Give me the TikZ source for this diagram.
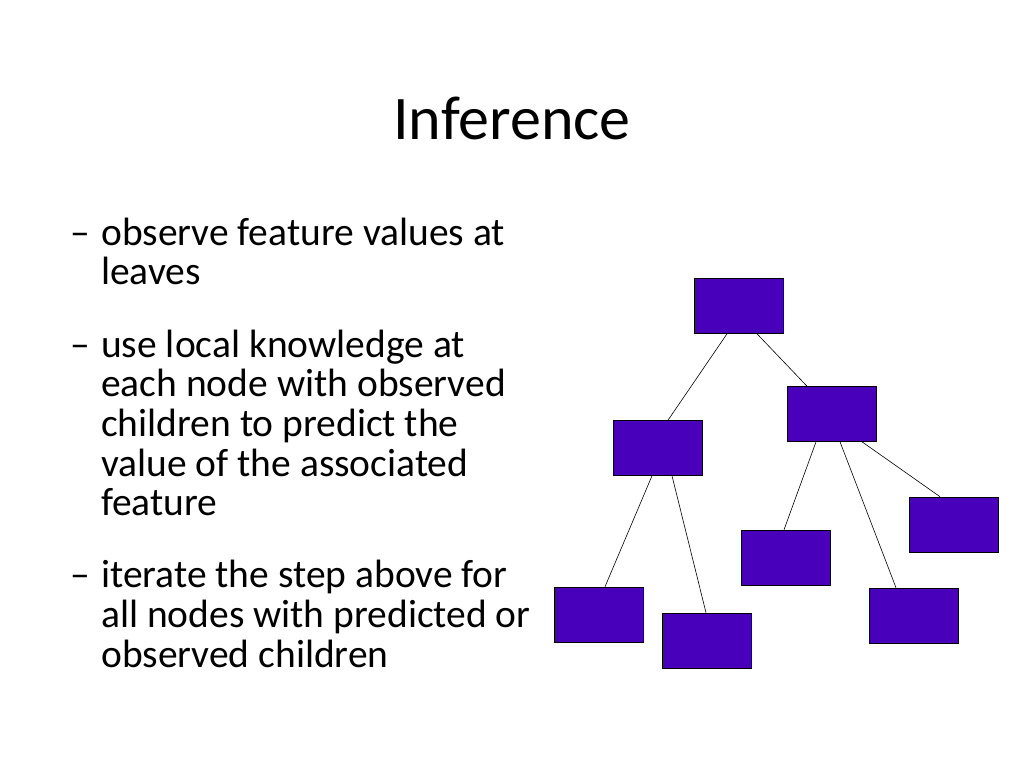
\documentclass[tikz,border=0pt]{standalone}
\usepackage{fontspec}
\setmainfont{Carlito}
\definecolor{boxfill}{RGB}{73,0,187}
\begin{document}
\begin{tikzpicture}[x=1pt,y=-1pt,
  tb/.style={draw=black,fill=boxfill,minimum width=89pt,minimum height=55pt,inner sep=0pt,line width=0.6pt},
  ln/.style={anchor=base west,inner sep=0pt,font=\fontsize{39.5}{40}\selectfont},
  ed/.style={draw=black,line width=0.6pt}]
\useasboundingbox (0,0) rectangle (1024,768);
\node[anchor=base,inner sep=0pt,font=\fontsize{62}{70}\selectfont] (title) at (512,139) {Inference};
\node[ln] (d1) at (70,245) {–};
\node[ln] (l1) at (101,245) {observe feature values at};
\node[ln] (l2) at (101,284) {leaves};
\node[ln] (d2) at (70,357) {–};
\node[ln] (l3) at (101,357) {use local knowledge at};
\node[ln] (l4) at (101,396) {each node with observed};
\node[ln] (l5) at (101,436) {children to predict the};
\node[ln] (l6) at (101,476) {value of the associated};
\node[ln] (l7) at (101,515) {feature};
\node[ln] (d3) at (70,587) {–};
\node[ln] (l8) at (101,587) {iterate the step above for};
\node[ln] (l9) at (101,627) {all nodes with predicted or};
\node[ln] (l10) at (101,667) {observed children};
\node[tb] (root) at (738.5,306) {};
\node[tb] (B) at (832,414) {};
\node[tb] (A) at (657.5,448) {};
\node[tb] (R) at (953.5,524.5) {};
\node[tb] (M) at (785.5,557.5) {};
\node[tb] (LL) at (598.5,614.5) {};
\node[tb] (LR) at (706.5,640.5) {};
\node[tb] (BR) at (913.5,615.5) {};
\draw[ed] ([xshift=-11.5pt]root.south) -- ([xshift=10.5pt]A.north);
\draw[ed] ([xshift=18.5pt]root.south) -- ([xshift=-25pt]B.north);
\draw[ed] ([xshift=-5.5pt]A.south) -- ([xshift=6.5pt]LL.north);
\draw[ed] ([xshift=14.5pt]A.south) -- ([xshift=-0.5pt]LR.north);
\draw[ed] ([xshift=-16pt]B.south) -- ([xshift=-1.5pt]M.north);
\draw[ed] ([xshift=8pt]B.south) -- ([xshift=-17.5pt]BR.north);
\draw[ed] ([xshift=30pt]B.south) -- ([xshift=-13.5pt]R.north);
\end{tikzpicture}
\end{document}
